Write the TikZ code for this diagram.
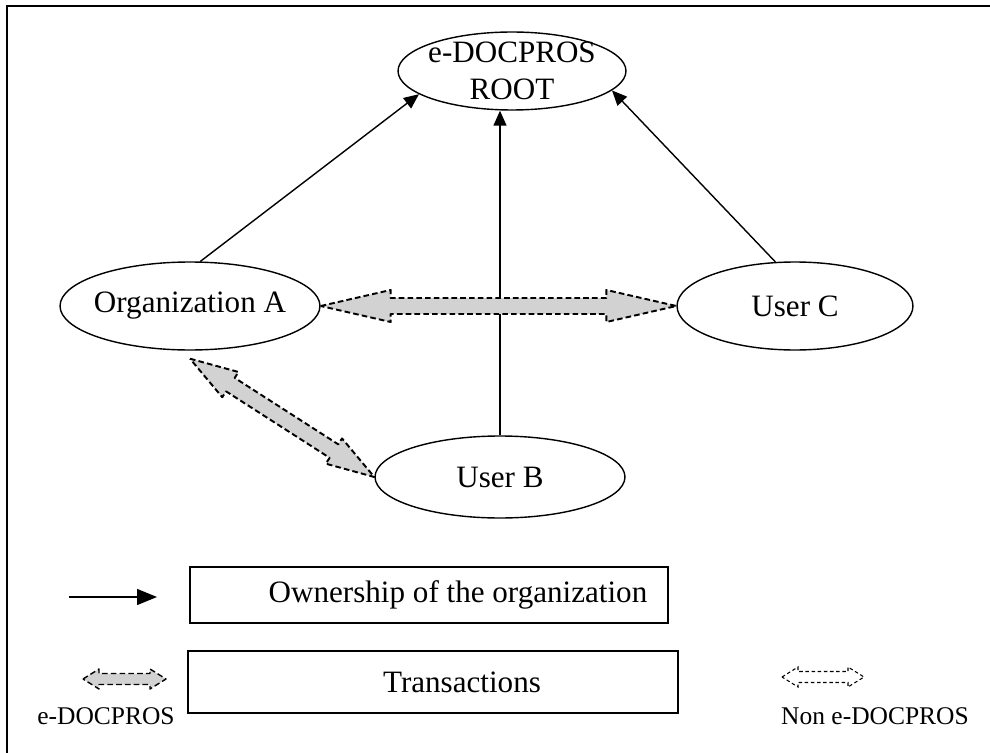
\documentclass[tikz,border=0pt]{standalone}
\usepackage{fontspec}
\setmainfont{Liberation Serif}
\usetikzlibrary{arrows.meta,shapes,calc}

% fat two-headed arrow: [style]{from}{to}{head length}{head half width}{shaft half width}
\newcommand{\fatarrow}[6][]{%
  \draw[#1] (#2) -- ($(#2)!#4!(#3)!#5!90:(#3)$) -- ($(#2)!#4!(#3)!#6!90:(#3)$)
    -- ($(#3)!#4!(#2)!#6!-90:(#2)$) -- ($(#3)!#4!(#2)!#5!-90:(#2)$) -- (#3)
    -- ($(#3)!#4!(#2)!#5!90:(#2)$) -- ($(#3)!#4!(#2)!#6!90:(#2)$)
    -- ($(#2)!#4!(#3)!#6!-90:(#3)$) -- ($(#2)!#4!(#3)!#5!-90:(#3)$) -- cycle;}

\begin{document}
\begin{tikzpicture}[
        x=0.02cm, y=-0.02cm,
        every node/.style={font=\fontsize{17.7}{21}\selectfont, align=center},
        entity/.style={draw, ellipse, line width=0.8pt, inner xsep=-0.3cm, inner ysep=-0.25cm},
        legendbox/.style={draw, line width=0.8pt, inner sep=0pt},
        owns/.style={line width=0.8pt, -{Triangle[length=3mm, width=2.6mm]}},
        trans/.style={draw=black, fill=gray!35, line width=1.1pt, dash pattern=on 3.2pt off 1.8pt, line join=round},
        nontrans/.style={draw=black, line width=0.6pt, dash pattern=on 2pt off 1.5pt},
        small/.style={font=\fontsize{14.5}{17}\selectfont}
    ]
  \useasboundingbox (0,0) rectangle (990,753);
  \draw[line width=1.1pt] (7,753) -- (7,6) -- (990,6);

  % Nodes
  \node (root) [entity, minimum width=4.56cm, minimum height=1.56cm] at (512,71) {e-DOCPROS\\ROOT};
  \node (orgA) [entity, minimum width=5.2cm, minimum height=1.76cm] at (190,306) {Organization A};
  \node (userC) [entity, minimum width=4.72cm, minimum height=1.76cm] at (795,306) {User C};
  \node (userB) [entity, minimum width=5cm, minimum height=1.64cm] at (500,477) {User B};

  % Legend
  \node (ownBox) [legendbox, minimum width=9.56cm, minimum height=1.12cm] at (429,595) {\hspace*{1.16cm}Ownership of the organization};
  \node (transBox) [legendbox, minimum width=9.8cm, minimum height=1.24cm] at (433,682) {\hspace*{1.16cm}Transactions};
  \node (lblE) [small] at (106,716) {e-DOCPROS};
  \node (lblN) [small] at (875,716) {Non e-DOCPROS};
  \coordinate (own1) at (69,597);
  \coordinate (own2) at (157,597);
  \coordinate (leg1a) at (83,679);
  \coordinate (leg1b) at (166,679);
  \coordinate (leg2a) at (782,677);
  \coordinate (leg2b) at (864,677);
  \coordinate (abTop) at ($(orgA.south)+(0,8)$);

  % Ownership
  \draw[owns] (orgA.77) -- (root.194);
  \draw[owns] (userB.north) -- (userB.north |- root.south);
  \draw[owns] (userC.114) -- (root.349);
  \draw[owns, -{Triangle[length=4mm, width=3.2mm]}] (own1) -- (own2);

  % Transactions
  \fatarrow[trans]{orgA.east}{userC.west}{1.4cm}{0.32cm}{0.16cm}
  \fatarrow[trans]{abTop}{userB.west}{0.96cm}{0.3cm}{0.16cm}
  \fatarrow[trans, line width=0.8pt]{leg1a}{leg1b}{0.32cm}{0.2cm}{0.11cm}
  \fatarrow[nontrans]{leg2a}{leg2b}{0.32cm}{0.2cm}{0.11cm}
\end{tikzpicture}
\end{document}
